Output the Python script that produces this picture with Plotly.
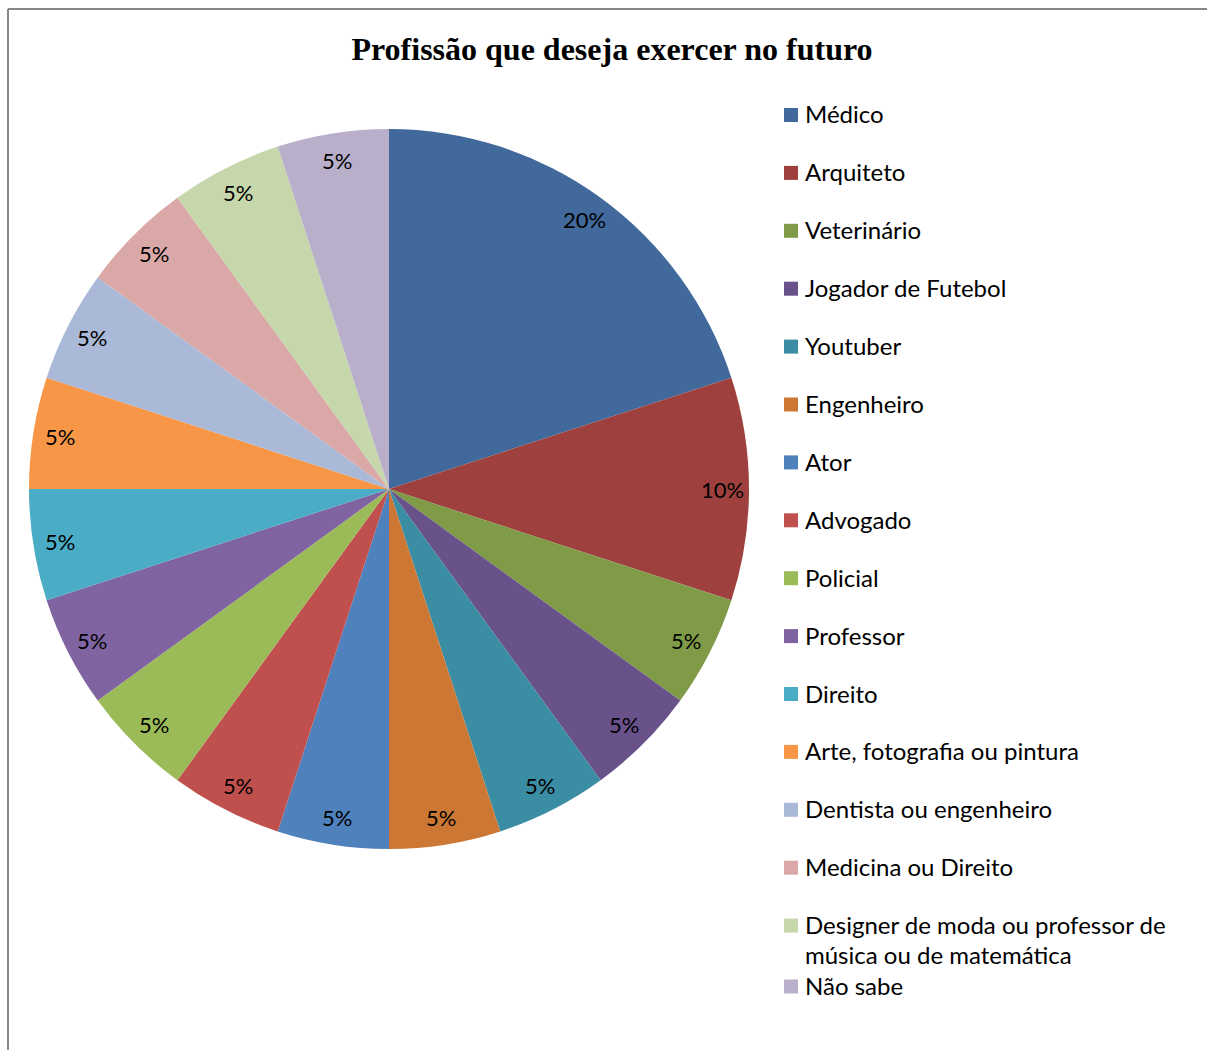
import math
import textwrap
import plotly.graph_objects as go

# Survey answers: profession each student wants to follow
profissoes = [
    "Médico", "Arquiteto", "Veterinário", "Jogador de Futebol", "Youtuber",
    "Engenheiro", "Ator", "Advogado", "Policial", "Professor", "Direito",
    "Arte, fotografia ou pintura", "Dentista ou engenheiro", "Medicina ou Direito",
    "Designer de moda ou professor de música ou de matemática", "Não sabe",
]
percentuais = [20, 10, 5, 5, 5, 5, 5, 5, 5, 5, 5, 5, 5, 5, 5, 5]
cores = [
    "#41699B", "#9E413E", "#7F9B48", "#69518A", "#3A8DA3", "#CC7734",
    "#4F81BD", "#C0504D", "#9BBB59", "#8064A2", "#4BACC6", "#F79646",
    "#A9B9D7", "#D9A8A7", "#C6D7AC", "#B9AFCB",
]

W, H = 1207, 1050
CX, CY, R = 389, 489, 360  # pie centre and radius, pixels
SANS = "Lato, 'Open Sans', sans-serif"


def px(x):
    return x / W


def py(y):
    return 1 - y / H


fig = go.Figure(
    go.Pie(
        labels=profissoes,
        values=percentuais,
        marker=dict(colors=cores, line=dict(width=0)),
        sort=False,
        direction="clockwise",
        rotation=0,
        textinfo="none",
        hoverinfo="label+percent",
        showlegend=False,
        domain=dict(x=[px(CX - R), px(CX + R)], y=[py(CY + R), py(CY - R)]),
    )
)

annotations = []

# Percentage labels, placed near the rim at each slice's mid angle
total = sum(percentuais)
acc = 0
for v in percentuais:
    mid = (acc + v / 2) / total * 2 * math.pi
    acc += v
    r = 0.925 * R
    x = CX + r * math.sin(mid)
    y = CY - r * math.cos(mid)
    annotations.append(dict(
        x=px(x), y=py(y), xref="paper", yref="paper",
        text=f"{v / total:.0%}", showarrow=False,
        xanchor="center", yanchor="middle",
        font=dict(family=SANS, size=22, color="#000000"),
    ))

# Legend drawn as coloured squares with text to their right
shapes = []
row0, row_step, line_step = 115, 57.9, 30
extra = 0  # small push-down after an entry that wraps onto two lines
for i, (nome, cor) in enumerate(zip(profissoes, cores)):
    yc = row0 + i * row_step + extra
    shapes.append(dict(
        type="rect", xref="paper", yref="paper",
        x0=px(784), x1=px(798), y0=py(yc + 7), y1=py(yc - 7),
        fillcolor=cor, line=dict(width=0),
    ))
    linhas = textwrap.wrap(nome, 32)
    for j, linha in enumerate(linhas):
        annotations.append(dict(
            x=px(804), y=py(yc - 1 + j * line_step), xref="paper", yref="paper",
            text=linha, showarrow=False, xanchor="left", yanchor="middle",
            borderpad=0,
            font=dict(family=SANS, size=24, color="#000000"),
        ))
    extra += 3 * (len(linhas) - 1)

# Chart frame (left and top edges)
frame = dict(color="#878787", width=2)
shapes.append(dict(type="line", xref="paper", yref="paper",
                   x0=px(8), x1=px(8), y0=py(9), y1=py(H + 5), line=frame))
shapes.append(dict(type="line", xref="paper", yref="paper",
                   x0=px(8), x1=px(W + 5), y0=py(9), y1=py(9), line=frame))

fig.update_layout(
    width=W, height=H,
    margin=dict(l=0, r=0, t=0, b=0),
    paper_bgcolor="#FFFFFF",
    plot_bgcolor="#FFFFFF",
    title=dict(
        text="<b>Profissão que deseja exercer no futuro</b>",
        x=px(612), xanchor="center", y=py(49), yanchor="middle",
        font=dict(family="'Liberation Serif', 'Times New Roman', serif", size=32, color="#000000"),
    ),
    annotations=annotations,
    shapes=shapes,
)

fig.write_html("out.html")
